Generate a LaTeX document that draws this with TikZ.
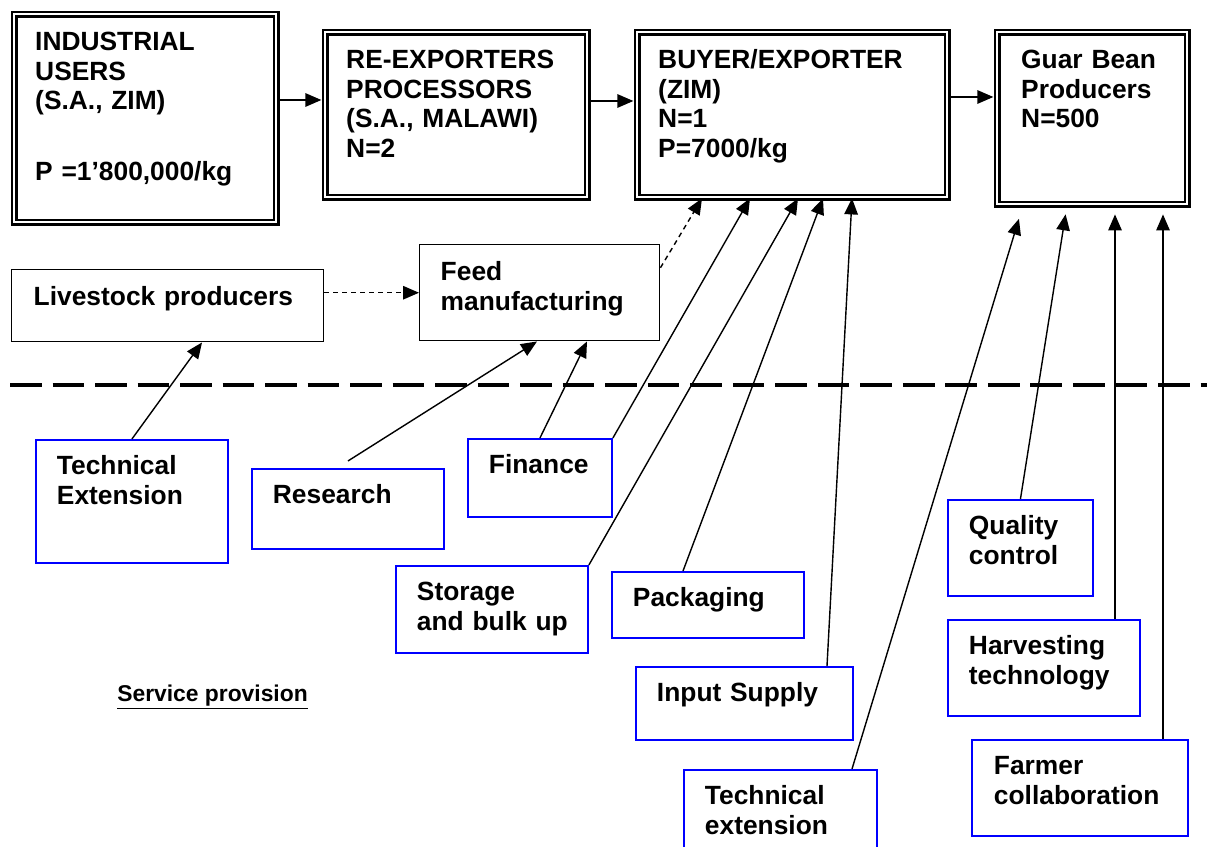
\documentclass[tikz,border=0pt]{standalone}
\usepackage{fontspec}
\setmainfont{Liberation Sans}
\usetikzlibrary{arrows.meta}
\definecolor{srvblue}{RGB}{0,0,255}

\tikzset{
  chainbox/.style={draw, line width=1.4pt, double, double distance=1.3pt, anchor=north west,
    align=left, inner xsep=0.42cm, inner ysep=0pt, text height=0.72cm},
  actorbox/.style={draw, line width=0.85pt, anchor=north west, align=left,
    inner xsep=0.42cm, inner ysep=0pt, text height=0.72cm},
  srvbox/.style={actorbox, draw=srvblue, line width=1.1pt, text height=0.7cm},
  conn/.style={-{Triangle[length=0.32cm,width=0.27cm]}, line width=0.8pt},
  dashconn/.style={conn, dash pattern=on 2.8pt off 2.3pt},
}

\begin{document}
\begin{tikzpicture}[x=0.02cm, y=-0.02cm, font=\bfseries\fontsize{15}{17}\selectfont]
\useasboundingbox (0,0) rectangle (1207,847);
\clip (0,0) rectangle (1207,847);

% value chain
\node[chainbox, text width=4.4cm, text depth=3.44cm] (ind) at (13,13)
  {INDUSTRIAL\\ USERS\\ (S.A., ZIM)\\[0.82cm] P~=1’800,000/kg};
\node[chainbox, text width=4.4cm, text depth=2.58cm] (rex) at (324,31)
  {RE-EXPORTERS\\ PROCESSORS\\ (S.A., MALAWI)\\ N=2};
\node[chainbox, text width=5.36cm, text depth=2.58cm] (buy) at (636,31)
  {BUYER/EXPORTER\\ (ZIM)\\ N=1\\ P=7000/kg};
\node[chainbox, inner xsep=0.48cm, text width=2.84cm, text depth=2.72cm] (guar) at (996,31)
  {Guar~Bean\\ Producers\\ N=500};

\draw[conn, shorten >=1.5pt] (ind.east |- 0,100) -- (rex.west |- 0,100);
\draw[conn, shorten >=1.5pt] (rex.east |- 0,101) -- (buy.west |- 0,101);
\draw[conn, shorten >=1.5pt] (buy.east |- 0,97) -- (guar.west |- 0,97);

% feed side
\node[actorbox, inner xsep=0.44cm, text width=5.36cm, text depth=0.72cm] (live) at (11,269)
  {Livestock~producers};
\node[actorbox, text width=3.96cm, text depth=1.2cm] (feed) at (419,244)
  {Feed\\ manufacturing};

\draw[dashconn] (live.east |- feed.west) -- (feed.west);
\draw[dashconn] ([yshift=0.5cm]feed.east) -- (buy.south -| 702,0);

% divider
\draw[line width=2.3pt, dash pattern=on 18pt off 6.2pt] (10,385) -- (1207,385);

% service provision
\node[srvbox, text width=3cm, text depth=1.76cm] (tech) at (35,439) {Technical\\ Extension};
\node[srvbox, text width=3cm, text depth=0.9cm] (res) at (251,468) {Research};
\node[srvbox, text width=2.04cm, text depth=0.86cm] (fin) at (467,438) {Finance};
\node[srvbox, text width=3cm, text depth=1.04cm] (stor) at (395,565) {Storage\\ and~bulk~up};
\node[srvbox, text width=3cm, text depth=0.62cm] (pack) at (611,571) {Packaging};
\node[srvbox, text width=3.5cm, text depth=0.76cm] (inp) at (635,666) {Input~Supply};
\node[srvbox, text width=3.02cm, text depth=1.3cm] (text) at (683,769) {Technical\\ extension};
\node[srvbox, text width=2.06cm, text depth=1.22cm] (qual) at (947,499) {Quality\\ control};
\node[srvbox, text width=3cm, text depth=1.22cm] (harv) at (947,619) {Harvesting\\ technology};
\node[srvbox, inner xsep=0.44cm, text width=3.44cm, text depth=1.22cm] (farm) at (971,739)
  {Farmer\\ collaboration};

\node[anchor=base west, inner sep=0pt, font=\bfseries\fontsize{13}{15}\selectfont] (title)
  at (117,701) {\underline{Service provision}};

\draw[conn] (tech.north) -- (live.south -| 202,0);
\draw[conn] ([yshift=0.14cm]res.north) -- (feed.south -| 537,0);
\draw[conn] (fin.north) -- (feed.south -| 587,0);
\draw[conn] (fin.north east) -- (buy.south -| 750,0);
\draw[conn] (stor.north east) -- (buy.south -| 798,0);
\draw[conn] (pack.north -| 683,0) -- (buy.south -| 823,0);
\draw[conn] (inp.north -| 827,0) -- (buy.south -| 852,0);
\draw[conn, shorten >=0.28cm] (text.north -| 852,0) -- (guar.south -| 1023,0);
\draw[conn, shorten >=0.18cm] (qual.north) -- (guar.south -| 1067,0);
\draw[conn, shorten >=0.18cm] (harv.north -| 1115,0) -- (guar.south -| 1115,0);
\draw[conn, shorten >=0.18cm] (farm.north -| 1163,0) -- (guar.south -| 1163,0);
\end{tikzpicture}
\end{document}
